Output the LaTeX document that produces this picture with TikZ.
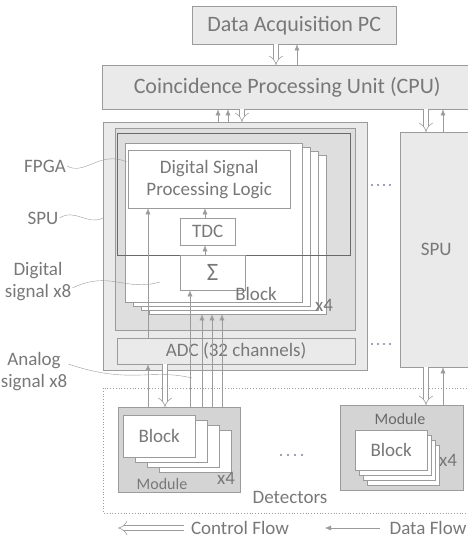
\documentclass[tikz,border=0pt]{standalone}
\usepackage{fontspec}
\setmainfont{Carlito}
\usetikzlibrary{arrows.meta}
\definecolor{custom-line}{RGB}{155,155,155}
\definecolor{custom-dark}{RGB}{105,105,105}
\definecolor{custom-text}{RGB}{120,120,120}
\definecolor{custom-fill}{RGB}{234,234,234}
\definecolor{custom-mid}{RGB}{222,222,222}
\definecolor{custom-module}{RGB}{212,212,212}
\definecolor{custom-dots}{RGB}{125,130,155}
\tikzset{
  box/.style={draw=custom-line, fill=custom-fill, anchor=north west, inner sep=0pt, text=custom-text, align=center},
  blockbox/.style={draw=custom-line, fill=white, anchor=north west, inner sep=0pt},
  flow/.style={draw=custom-line, line width=0.6pt, double=white, double distance=4.5pt, -{Implies[length=6pt]}},
  data/.style={draw=custom-line, -{Latex[length=6pt,width=5pt]}},
  lbl/.style={text=custom-text, align=center, inner sep=1pt},
  wave/.style={draw=custom-line},
  big/.style={font=\fontsize{22}{26}\selectfont},
  mid/.style={font=\fontsize{19}{22}\selectfont},
  small/.style={font=\fontsize{16}{19}\selectfont},
}

\begin{document}
\begin{tikzpicture}[x=1pt, y=-1pt]
\useasboundingbox (0,0) rectangle (467,541);

% top level
\node[box, big, minimum width=204pt, minimum height=38pt] (daq) at (192,6) {Data Acquisition PC};
\node[box, big, minimum width=370pt, minimum height=44pt] (cpu) at (102,65) {Coincidence Processing Unit (CPU)};

% left signal processing unit
\node[box, minimum width=264pt, minimum height=248pt] (spuL) at (103,122) {};
\filldraw[fill=custom-mid, draw=custom-line] (115,128) rectangle (355,330);
\foreach \d in {3,2,1,0}
  \node[blockbox, minimum width=177pt, minimum height=159pt] (blk\d) at (125+8*\d,143+4*\d) {};
\node[draw=custom-dark, thick, anchor=north west, minimum width=233pt, minimum height=122pt] (fpga) at (117,133) {};
\node[box, mid, fill=white, minimum width=162pt, minimum height=58pt] (dsp) at (128,150) {Digital Signal\\Processing Logic};
\node[box, mid, fill=white, minimum width=55pt, minimum height=27pt] (tdc) at (180,218) {TDC};
\node[box, font=\fontsize{25}{28}\selectfont, fill=white, minimum width=65pt, minimum height=35pt] (sum) at (180,255) {Σ};
\node[lbl, mid] (blklbl) at (256,294) {Block};
\node[lbl, mid] (blkx) at (324,305) {x4};
\node[box, mid, minimum width=238pt, minimum height=26pt] (adc) at (117,338) {ADC (32 channels)};

% right signal processing unit
\node[box, mid, minimum width=72pt, minimum height=235pt] (spuR) at (400,132) {SPU};
\foreach \x in {372,378,384,390} {
  \fill[custom-dots] (\x,185) circle (1.1pt);
  \fill[custom-dots] (\x,344) circle (1.1pt);
}

% detectors
\draw[custom-line, dotted, thick] (103,388) rectangle (472,513);
\node[lbl, mid] (det) at (290,497) {Detectors};

\node[box, fill=custom-module, minimum width=122pt, minimum height=85pt] (modL) at (118,407) {};
\foreach \d in {3,2,1,0}
  \node[blockbox, minimum width=72pt, minimum height=42pt] (lb\d) at (123+12*\d,415+5*\d) {};
\node[lbl, mid] at (lb0) {Block};
\node[lbl, small] (modLlbl) at (162,484) {Module};
\node[lbl, mid] (modLx) at (226,478) {x4};

\node[box, fill=custom-module, minimum width=123pt, minimum height=85pt] (modR) at (340,405) {};
\foreach \d in {3,2,1,0}
  \node[blockbox, minimum width=72pt, minimum height=40pt] (rb\d) at (355+4*\d,430+5*\d) {};
\node[lbl, mid] at (rb0) {Block};
\node[lbl, small, text=custom-dark] (modRlbl) at (400,419) {Module};
\node[lbl, mid] (modRx) at (448,460) {x4};

\foreach \x in {281,288,295,302}
  \fill[custom-dots] (\x,455) circle (1.1pt);

% flows between levels
\draw[flow] (daq.south -| 276,0) -- (cpu.north -| 276,0);
\draw[data] (cpu.north -| 297,0) -- (daq.south -| 297,0);
\draw[data] (spuL.north -| 218,0) -- (cpu.south -| 218,0);
\draw[data] (spuL.north -| 228,0) -- (cpu.south -| 228,0);
\draw[flow] (cpu.south -| 242,0) -- (spuL.north -| 242,0);
\draw[flow] (cpu.south -| 426,0) -- (spuR.north -| 426,0);
\draw[data] (spuR.north -| 443,0) -- (cpu.south -| 443,0);

% inside the block
\draw[data] (adc.north -| 148,0) -- (dsp.south -| 148,0);
\draw[data] (sum.north -| 205,0) -- (tdc.south -| 205,0);
\draw[data] (tdc.north -| 205,0) -- (dsp.south -| 205,0);
\draw[data] (modL.north -| 190,0) -- (sum.south -| 190,0);
\draw[data] (modL.north -| 202,0) -- (blk3.south -| 202,0);
\draw[data] (modL.north -| 212,0) -- (blk3.south -| 212,0);
\draw[data] (modL.north -| 222,0) -- (blk3.south -| 222,0);

% detectors to adc / spu
\draw[data] (modL.north -| 148,0) -- (adc.south -| 148,0);
\draw[flow] (adc.south -| 165,0) -- (modL.north -| 165,0);
\draw[flow] (spuR.south -| 426,0) -- (modR.north -| 426,0);
\draw[data] (modR.north -| 443,0) -- (spuR.south -| 443,0);

% side labels
\node[lbl, mid] (lfpga) at (45,166) {FPGA};
\node[lbl, mid] (lspu) at (43,218) {SPU};
\node[lbl, mid] (ldig) at (38,282) {Digital\\signal x8};
\node[lbl, mid] (lana) at (34,372) {Analog\\signal x8};
\coordinate (fpga-end) at (127,162);
\coordinate (dig-end) at (160,282);
\coordinate (ana-end) at (192,378);
\draw[wave] (lfpga.east) .. controls (85,176) and (100,150) .. (fpga-end);
\draw[wave] (lspu.east) .. controls (75,208) and (88,226) .. (lspu.east -| spuL.west);
\draw[wave] ([yshift=-6pt]ldig.east) .. controls (110,270) and (125,292) .. (dig-end);
\draw[wave] ([yshift=8pt]lana.east) .. controls (130,385) and (150,368) .. (ana-end);

% legend
\node[lbl, mid] (lctrl) at (240,528) {Control Flow};
\node[lbl, mid] (ldata) at (428,528) {Data Flow};
\coordinate (ctrl-tip) at (118,528);
\coordinate (data-tip) at (325,528);
\draw[flow] ([xshift=-6pt]lctrl.west) -- (ctrl-tip);
\draw[data] ([xshift=-8pt]ldata.west) -- (data-tip);
\end{tikzpicture}
\end{document}
